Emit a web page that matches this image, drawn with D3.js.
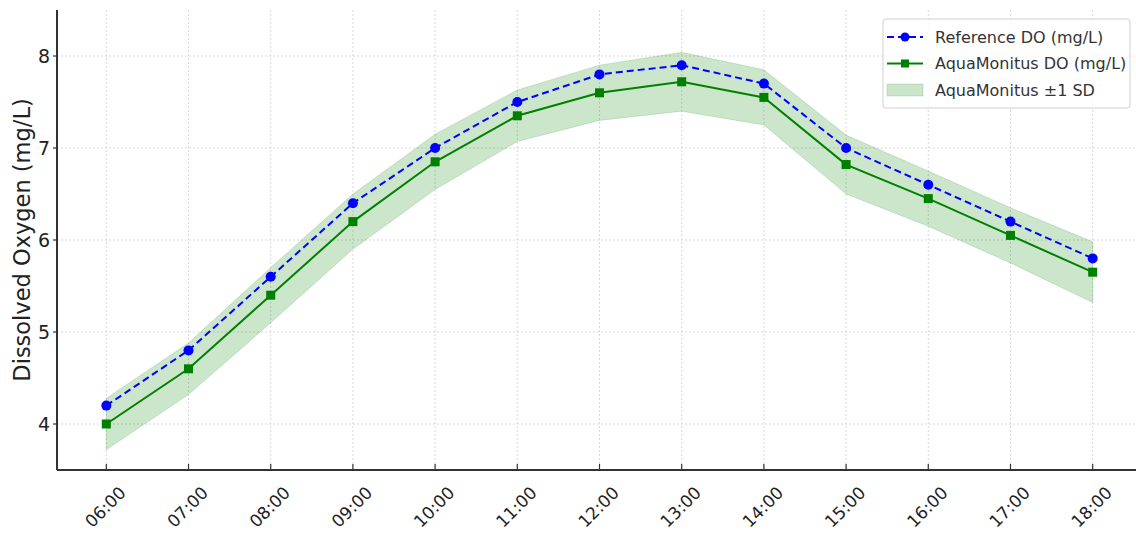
<!DOCTYPE html>
<html><head><meta charset="utf-8">
<script src="https://cdn.jsdelivr.net/npm/d3@7"></script>
<style>body{margin:0;background:#fff}svg{display:block}</style>
</head><body>
<svg id="c" width="1136" height="537"></svg>
<script>
const times = ["06:00","07:00","08:00","09:00","10:00","11:00","12:00","13:00","14:00","15:00","16:00","17:00","18:00"];
const referenceDO = [4.2,4.8,5.6,6.4,7.0,7.5,7.8,7.9,7.7,7.0,6.6,6.2,5.8];
const aquaDO = [4.0,4.6,5.4,6.2,6.85,7.35,7.6,7.72,7.55,6.82,6.45,6.05,5.65];
const aquaSD = [0.28,0.28,0.3,0.3,0.3,0.28,0.3,0.32,0.3,0.32,0.3,0.3,0.33];
const yTicks = [4,5,6,7,8];

const FONT = "DejaVu Sans, sans-serif";
const svg = d3.select("#c");
const padL = 57, padT = 10, padB = 470, padR = 1142;
const x = d3.scaleLinear().domain([-0.6, times.length - 1 + 0.6]).range([padL, padR]);
const y = d3.scaleLinear().domain([3.5, 8.5]).range([padB, padT]);

// grid
svg.append("g").selectAll("line").data(times).join("line")
  .attr("x1",(d,i)=>x(i)).attr("x2",(d,i)=>x(i)).attr("y1",padT).attr("y2",padB)
  .attr("stroke","#d8d8d8").attr("stroke-width",1).attr("stroke-dasharray","2,2");
svg.append("g").selectAll("line").data(yTicks).join("line")
  .attr("x1",padL).attr("x2",1136).attr("y1",d=>y(d)).attr("y2",d=>y(d))
  .attr("stroke","#d8d8d8").attr("stroke-width",1).attr("stroke-dasharray","2,2");

// band
const area = d3.area().x((d,i)=>x(i)).y0((d,i)=>y(aquaDO[i]-aquaSD[i])).y1((d,i)=>y(aquaDO[i]+aquaSD[i]));
svg.append("path").datum(times).attr("d",area)
  .attr("fill","#008000").attr("fill-opacity",0.2).attr("stroke","#008000").attr("stroke-opacity",0.15);

// aqua line
const line = arr => d3.line().x((d,i)=>x(i)).y((d,i)=>y(arr[i]))(times);
svg.append("path").attr("d",line(aquaDO)).attr("fill","none").attr("stroke","#008000").attr("stroke-width",2);
svg.append("g").selectAll("rect").data(aquaDO).join("rect")
  .attr("x",(d,i)=>x(i)-4.5).attr("y",d=>y(d)-4.5).attr("width",9).attr("height",9).attr("fill","#008000");

// reference line
svg.append("path").attr("d",line(referenceDO)).attr("fill","none").attr("stroke","#0000ff").attr("stroke-width",2).attr("stroke-dasharray","7,4");
svg.append("g").selectAll("circle").data(referenceDO).join("circle")
  .attr("cx",(d,i)=>x(i)).attr("cy",d=>y(d)).attr("r",5).attr("fill","#0000ff");

// axes
const ax = svg.append("g");
ax.append("line").attr("x1",padL).attr("x2",1136).attr("y1",padB).attr("y2",padB).attr("stroke","#333").attr("stroke-width",2);
ax.append("line").attr("x1",padL).attr("x2",padL).attr("y1",padT).attr("y2",padB).attr("stroke","#333").attr("stroke-width",2);
ax.selectAll(".xt").data(times).join("line").attr("class","xt")
  .attr("x1",(d,i)=>x(i)).attr("x2",(d,i)=>x(i)).attr("y1",padB).attr("y2",padB-6).attr("stroke","#333").attr("stroke-width",1.2);
ax.selectAll(".yt").data(yTicks).join("line").attr("class","yt")
  .attr("x1",padL).attr("x2",padL-4).attr("y1",d=>y(d)).attr("y2",d=>y(d)).attr("stroke","#333").attr("stroke-width",1.2);
ax.selectAll(".xl").data(times).join("text").attr("class","xl")
  .attr("transform",(d,i)=>`translate(${x(i)-1},${507}) rotate(-45)`)
  .attr("text-anchor","middle").attr("dominant-baseline","central")
  .attr("font-family",FONT).attr("font-size",17).attr("fill","#222").text(d=>d);
ax.selectAll(".yl").data(yTicks).join("text").attr("class","yl")
  .attr("x",padL-7).attr("y",d=>y(d)).attr("text-anchor","end").attr("dominant-baseline","central")
  .attr("font-family",FONT).attr("font-size",19).attr("fill","#222").text(d=>d);
svg.append("text").attr("transform",`translate(22,${240}) rotate(-90)`)
  .attr("text-anchor","middle").attr("dominant-baseline","central")
  .attr("font-family",FONT).attr("font-size",22.5).attr("fill","#222").text("Dissolved Oxygen (mg/L)");

// legend
const lg = svg.append("g").attr("transform","translate(883,19)");
lg.append("rect").attr("width",247).attr("height",89).attr("rx",3)
  .attr("fill","#fff").attr("fill-opacity",0.85).attr("stroke","#d0d0d0");
const items = [
  {label:"Reference DO (mg/L)", type:"ref"},
  {label:"AquaMonitus DO (mg/L)", type:"aqua"},
  {label:"AquaMonitus \u00b11 SD", type:"band"}
];
items.forEach((it,k)=>{
  const cy = 18 + k*26.5;
  const g = lg.append("g");
  if(it.type==="ref"){
    g.append("line").attr("x1",4).attr("x2",40).attr("y1",cy).attr("y2",cy).attr("stroke","#0000ff").attr("stroke-width",2).attr("stroke-dasharray","7,4");
    g.append("circle").attr("cx",22).attr("cy",cy).attr("r",4.5).attr("fill","#0000ff");
  } else if(it.type==="aqua"){
    g.append("line").attr("x1",4).attr("x2",40).attr("y1",cy).attr("y2",cy).attr("stroke","#008000").attr("stroke-width",2);
    g.append("rect").attr("x",18).attr("y",cy-4).attr("width",8).attr("height",8).attr("fill","#008000");
  } else {
    g.append("rect").attr("x",4).attr("y",cy-6).attr("width",36).attr("height",12).attr("fill","#008000").attr("fill-opacity",0.2).attr("stroke","#008000").attr("stroke-opacity",0.15);
  }
  g.append("text").attr("x",52).attr("y",cy).attr("dominant-baseline","central")
    .attr("font-family",FONT).attr("font-size",16).attr("fill","#333").text(it.label);
});
</script>
</body></html>
